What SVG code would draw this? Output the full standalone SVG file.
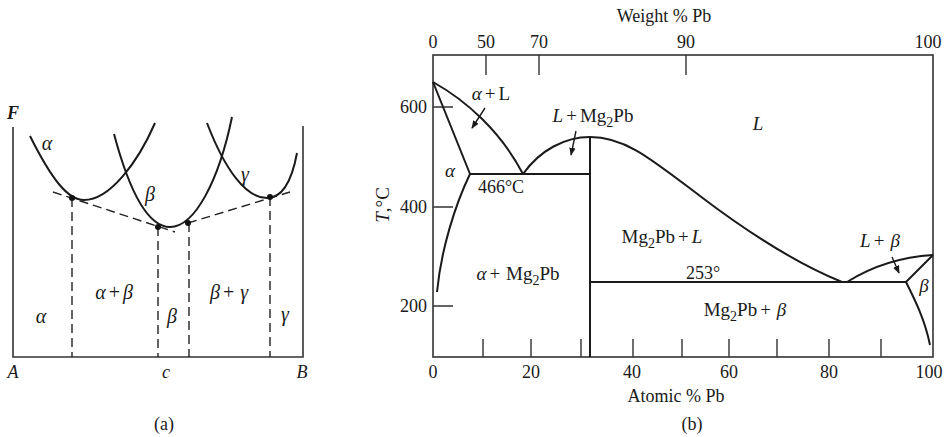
<svg xmlns="http://www.w3.org/2000/svg" width="951" height="437" viewBox="0 0 951 437">
<defs>
<style>
text{font-family:"Liberation Serif","Times New Roman",serif;font-size:18px;fill:#1a1a1a}
.lb{font-size:19px}
.g{font-size:20px}
.it{font-style:italic}
.c{text-anchor:middle}
.e{text-anchor:end}
.ax{stroke:#333;stroke-width:1.6;fill:none}
.cv{stroke:#1a1a1a;stroke-width:2;fill:none}
.da{stroke:#222;stroke-width:1.4;fill:none;stroke-dasharray:9 5}
.tk{stroke:#333;stroke-width:1.4}
.ar{stroke:#1a1a1a;stroke-width:1.4;fill:none;marker-end:url(#ah)}
</style>
<marker id="ah" viewBox="0 0 10 10" refX="9" refY="5" markerWidth="8" markerHeight="8" markerUnits="userSpaceOnUse" orient="auto">
<path d="M0 1 L10 5 L0 9 Z" fill="#1a1a1a"/>
</marker>
</defs>
<rect width="951" height="437" fill="#fff"/>

<!-- Panel (a) -->
<g id="panel-a">
<g id="a-axes">
<path class="ax" d="M13 127 V357 H303 V126"/>
<text class="it c" x="13" y="119" font-weight="bold">F</text>
<text class="it c" x="13" y="378">A</text>
<text class="it c" x="166" y="378">c</text>
<text class="it c" x="302" y="378">B</text>
<text class="c" x="164" y="430">(a)</text>
</g>
<g id="curve-alpha">
<path class="cv" d="M30 136 C52 180 68 200 84 200 C110 200 138 162 155 123"/>
<text class="it c g" x="47" y="150">α</text>
</g>
<g id="curve-beta">
<path class="cv" d="M114 134 C129 190 147 227 170 227 C195 227 219 180 232 117"/>
<text class="it c g" x="150" y="201">β</text>
</g>
<g id="curve-gamma">
<path class="cv" d="M207 123 C225 170 246 198 267 198 C283 198 292 180 297 153"/>
<text class="it c g" x="245" y="181">γ</text>
</g>
<g id="a-connectors">
<path class="da" d="M53 192 L175 232"/>
<path class="da" d="M188 223 L290 192"/>
<path class="da" d="M72 198 V357"/>
<path class="da" d="M158 227 V357"/>
<path class="da" d="M189 223 V357"/>
<path class="da" d="M270 197 V357"/>
<circle cx="72" cy="198" r="3" fill="#111"/>
<circle cx="158" cy="227" r="3" fill="#111"/>
<circle cx="188" cy="223" r="3" fill="#111"/>
<circle cx="270" cy="197" r="3" fill="#111"/>
</g>
<g id="a-regions">
<text class="it c g" x="41" y="323">α</text>
<text class="c g" x="114" y="299"><tspan class="it">α</tspan><tspan dx="3">+</tspan><tspan class="it" dx="3">β</tspan></text>
<text class="it c g" x="172" y="323">β</text>
<text class="c g" x="229" y="299"><tspan class="it">β</tspan><tspan dx="3">+</tspan><tspan class="it" dx="6">γ</tspan></text>
<text class="it c g" x="285" y="321">γ</text>
</g>
</g>

<!-- Panel (b) -->
<g id="panel-b">
<g id="b-axes">
<rect class="ax" x="433" y="55" width="500" height="302"/>
<path class="tk" d="M486 55 V75 M539 55 V75 M686 55 V75"/>
<path class="tk" d="M433 107 H453 M433 207 H453 M433 306 H453"/>
<path class="tk" d="M483 357 V339 M531 357 V339 M581 357 V339 M633 357 V339 M682 357 V339 M729 357 V339 M777 357 V339 M829 357 V339 M881 357 V339"/>
<text class="c" x="664" y="22">Weight % Pb</text>
<text class="c" x="433" y="48">0</text>
<text class="c" x="486" y="48">50</text>
<text class="c" x="539" y="48">70</text>
<text class="c" x="686" y="48">90</text>
<text class="c" x="928" y="48">100</text>
<text class="e" x="427" y="113">600</text>
<text class="e" x="427" y="213">400</text>
<text class="e" x="427" y="312">200</text>
<text class="c" x="433" y="378">0</text>
<text class="c" x="531" y="378">20</text>
<text class="c" x="632" y="378">40</text>
<text class="c" x="729" y="378">60</text>
<text class="c" x="829" y="378">80</text>
<text class="c" x="929" y="378">100</text>
<text class="c" x="676" y="402">Atomic % Pb</text>
<text class="c" x="692" y="430">(b)</text>
<text class="c lb" transform="translate(389 205) rotate(-90)"><tspan class="it">T</tspan>,°C</text>
</g>
<g id="b-curves">
<path class="cv" d="M433 82 C465 100 500 130 523 174"/>
<path class="cv" d="M433 82 L470 174"/>
<path class="cv" d="M470 174 C455 205 441 250 437 292"/>
<path class="cv" d="M470 174 H590"/>
<path class="cv" d="M523 174 C540 150 565 137 590 137 C625 137 650 158 700 196 S800 265 842 282"/>
<path class="cv" d="M590 137 V357"/>
<path class="cv" d="M590 282 H906"/>
<path class="cv" d="M847 282 Q885 258 933 255"/>
<path class="cv" d="M906 282 L933 255"/>
<path class="cv" d="M906 282 C915 300 925 320 930 345"/>
</g>
<g id="b-labels">
<text class="c lb" x="491" y="100"><tspan class="it">α</tspan><tspan dx="3">+</tspan><tspan dx="3">L</tspan></text>
<text class="c lb" x="593" y="122"><tspan class="it">L</tspan><tspan dx="3">+</tspan><tspan dx="3">Mg</tspan><tspan dy="5" font-size="14">2</tspan><tspan dy="-5">Pb</tspan></text>
<text class="it c lb" x="450" y="177">α</text>
<text class="c" x="501" y="193">466°C</text>
<text class="it c lb" x="758" y="130">L</text>
<text class="c lb" x="662" y="243">Mg<tspan dy="5" font-size="14">2</tspan><tspan dy="-5">Pb</tspan><tspan dx="3">+</tspan><tspan class="it" dx="3">L</tspan></text>
<text class="c" x="703" y="279">253°</text>
<text class="c lb" x="880" y="247"><tspan class="it">L</tspan><tspan dx="3">+</tspan><tspan class="it" dx="6">β</tspan></text>
<text class="it c lb" x="924" y="292">β</text>
<text class="c lb" x="745" y="316">Mg<tspan dy="5" font-size="14">2</tspan><tspan dy="-5">Pb</tspan><tspan dx="3">+</tspan><tspan class="it" dx="6">β</tspan></text>
<text class="c lb" x="518" y="280"><tspan class="it">α</tspan><tspan dx="3">+</tspan><tspan dx="6">Mg</tspan><tspan dy="5" font-size="14">2</tspan><tspan dy="-5">Pb</tspan></text>
</g>
<g id="b-connectors">
<path class="ar" d="M485 108 L472 128"/>
<path class="ar" d="M576 131 L571 155"/>
<path class="ar" d="M892 257 L899 273"/>
</g>
</g>
</svg>
